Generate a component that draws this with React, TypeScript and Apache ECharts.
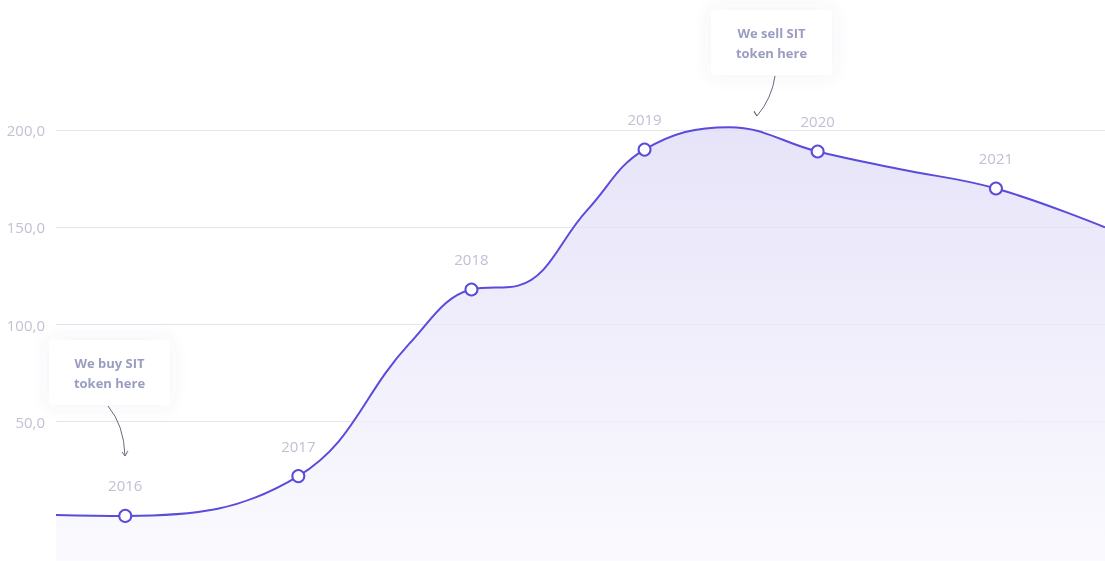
import { useRef, useEffect } from "react";
import * as echarts from "echarts";

// x positions: 0 = 2016, 1 step per year; extra points shape the curve
const pointX = [-0.4, 0, 1, 1.64, 2, 2.27, 2.67, 3, 3.49, 4, 4.47, 5.03, 5.66];
const pointY = [2, 1.5, 22, 90, 118, 120, 159, 190, 201.5, 189, 180, 170, 150];
const pointLabel = ["", "2016", "2017", "", "2018", "", "", "2019", "", "2020", "", "2021", ""];
const yTicks = [-50, 0, 50, 100, 150, 200, 250];

export default function App() {
  const chartRef = useRef<HTMLDivElement>(null);

  useEffect(() => {
    if (!chartRef.current) return;
    const chart = echarts.init(chartRef.current, null, { renderer: "svg" });

    const data = pointX.map((x, i) => {
      const lbl = pointLabel[i];
      return lbl
        ? {
            value: [x, pointY[i]],
            symbol: "circle",
            symbolSize: 12,
            label: { show: true, formatter: lbl },
          }
        : { value: [x, pointY[i]], symbol: "none" };
    });

    const box = (x: number, y: number, text: string) => [
      {
        type: "rect",
        shape: { x, y, width: 121, height: 65, r: 4 },
        style: { fill: "#fff", shadowBlur: 18, shadowColor: "rgba(90,80,160,0.08)" },
        z: 10,
      },
      {
        type: "text",
        x: x + 60.5,
        y: y + 33,
        style: {
          text,
          fill: "#9a9cc0",
          font: "bold 13px 'Open Sans', sans-serif",
          align: "center",
          verticalAlign: "middle",
          lineHeight: 20,
        },
        z: 11,
      },
    ];

    const arrow = (x1: number, y1: number, cx: number, cy: number, x2: number, y2: number, dir: number) => [
      {
        type: "bezierCurve",
        shape: { x1, y1, x2, y2, cpx1: cx, cpy1: cy },
        style: { stroke: "#6b6780", lineWidth: 1, fill: "none" },
        z: 10,
      },
      {
        type: "polyline",
        shape: { points: [[x2 - 3, y2 - 4], [x2, y2], [x2 + 3 * dir, y2 - 5]] },
        style: { stroke: "#6b6780", lineWidth: 1, fill: "none" },
        z: 10,
      },
    ];

    chart.setOption({
      animation: false,
      grid: { left: 56, right: 0, top: 33, height: 583 },
      xAxis: { type: "value", min: -0.4, max: 5.66, show: false },
      yAxis: {
        type: "value",
        min: -50,
        max: 250,
        interval: 50,
        axisLine: { show: false },
        axisTick: { show: false },
        axisLabel: {
          margin: 11,
          color: "#c3c0d3",
          fontSize: 15,
          fontFamily: "'Open Sans', sans-serif",
          formatter: (v: number) => (v >= 50 && v <= 200 ? v.toFixed(1).replace(".", ",") : ""),
        },
        splitLine: {
          lineStyle: {
            color: yTicks.map((t) => (t >= 50 && t <= 200 ? "#e6e5ee" : "rgba(0,0,0,0)")),
          },
        },
      },
      series: [
        {
          type: "line",
          smooth: 0.4,
          data,
          lineStyle: { color: "#5a4bdb", width: 2 },
          itemStyle: { color: "#fff", borderColor: "#5a4bdb", borderWidth: 2 },
          label: {
            position: "top",
            distance: 16,
            color: "#c3bfd4",
            fontSize: 15,
            fontFamily: "'Open Sans', sans-serif",
          },
          areaStyle: {
            origin: "start",
            color: new echarts.graphic.LinearGradient(0, 0, 0, 1, [
              { offset: 0, color: "#dcd8f6" },
              { offset: 1, color: "#fcfcff" },
            ]),
          },
        },
      ],
      graphic: [
        ...box(49, 340, "We buy SIT\ntoken here"),
        ...arrow(108, 406, 124, 425, 125, 456, 1),
        ...box(711, 10, "We sell SIT\ntoken here"),
        ...arrow(775, 76, 772, 98, 757, 116, -1),
      ],
    });

    return () => chart.dispose();
  }, []);

  return (
    <div
      ref={chartRef}
      style={{ position: "fixed", left: 0, top: 0, width: 1105, height: 620 }}
    />
  );
}
